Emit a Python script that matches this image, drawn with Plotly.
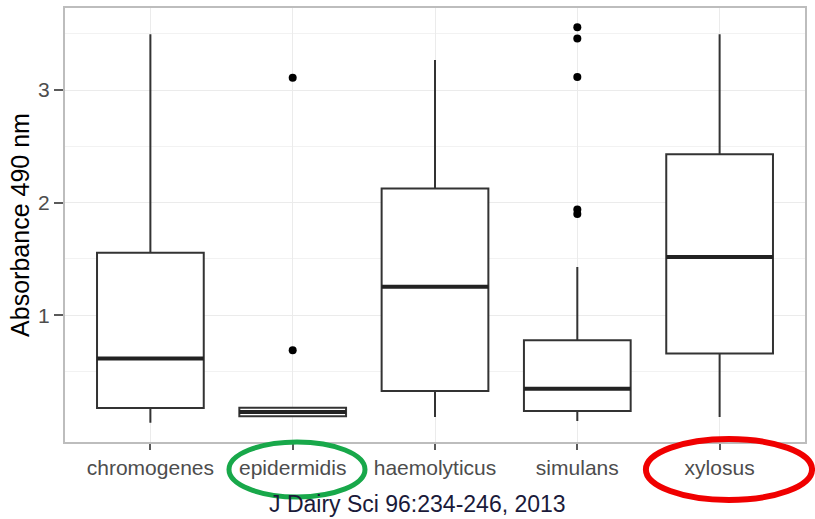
import plotly.graph_objects as go

categories = ["chromogenes", "epidermidis", "haemolyticus", "simulans", "xylosus"]
q1 = [0.176, 0.102, 0.327, 0.149, 0.659]
medians = [0.615, 0.140, 1.252, 0.348, 1.518]
q3 = [1.554, 0.178, 2.126, 0.778, 2.431]
lower_fence = [0.046, 0.100, 0.096, 0.060, 0.096]
upper_fence = [3.495, 0.180, 3.267, 1.429, 3.495]

outlier_cats = ["epidermidis", "epidermidis", "simulans", "simulans", "simulans", "simulans", "simulans"]
outlier_vals = [3.110, 0.689, 3.557, 3.459, 3.116, 1.940, 1.900]

y_ticks = [1, 2, 3]
y_minor = [0.5, 1.5, 2.5, 3.5]

line_col = "#333333"
fig = go.Figure()
fig.add_trace(go.Box(
    x=categories, q1=q1, median=medians, q3=q3,
    lowerfence=lower_fence, upperfence=upper_fence,
    boxpoints=False, width=0.75, whiskerwidth=0,
    fillcolor="white", line=dict(color=line_col, width=2),
    showlegend=False, hoverinfo="skip",
))
# thicker median line overlay
fig.add_trace(go.Box(
    x=categories, q1=medians, median=medians, q3=medians,
    lowerfence=medians, upperfence=medians,
    boxpoints=False, width=0.75, whiskerwidth=0,
    fillcolor="rgba(0,0,0,0)", line=dict(color="#222222", width=4),
    showlegend=False, hoverinfo="skip",
))
fig.add_trace(go.Scatter(
    x=outlier_cats, y=outlier_vals, mode="markers",
    marker=dict(color="black", size=8), showlegend=False,
))

grid_col = "#ebebeb"
fig.update_layout(
    width=815, height=519,
    margin=dict(l=65, r=10, t=8, b=77),
    plot_bgcolor="white", paper_bgcolor="white",
    boxmode="overlay",
    font=dict(family="Liberation Sans, Arial, sans-serif"),
    xaxis=dict(
        type="category", categoryorder="array", categoryarray=categories,
        range=[-0.6, 4.6], automargin=False,
        showgrid=True, gridcolor=grid_col, gridwidth=1.4,
        ticks="outside", ticklen=6, tickcolor="#5a5a5a", tickwidth=1.5,
        tickfont=dict(size=21, color="#4d4d4d"),
        showline=True, mirror=True, linecolor="#bdbdbd", linewidth=2,
        zeroline=False,
    ),
    yaxis=dict(
        range=[-0.126, 3.729], automargin=False,
        tickvals=y_ticks, ticktext=[str(v) for v in y_ticks],
        showgrid=True, gridcolor=grid_col, gridwidth=1.4,
        minor=dict(tickvals=y_minor, showgrid=True, gridcolor="#f2f2f2", gridwidth=1, ticks=""),
        ticks="outside", ticklen=9, tickcolor="#5a5a5a", tickwidth=1.5,
        tickfont=dict(size=21, color="#4d4d4d"),
        title=dict(text="Absorbance 490 nm", font=dict(size=25, color="black"), standoff=1),
        showline=True, mirror=True, linecolor="#bdbdbd", linewidth=2,
        zeroline=False,
    ),
    shapes=[
        dict(type="circle", xref="paper", yref="paper",
             x0=0.2216, x1=0.4054, y0=-0.1267, y1=0.0,
             line=dict(color="#18a84a", width=5)),
        dict(type="circle", xref="paper", yref="paper",
             x0=0.785, x1=1.0095, y0=-0.1336, y1=0.0069,
             line=dict(color="#f00000", width=6)),
    ],
    annotations=[
        dict(text="J Dairy Sci 96:234-246, 2013", xref="paper", yref="paper",
             x=0.477, y=-0.143, xanchor="center", yanchor="middle",
             showarrow=False, font=dict(size=23, color="#1a1a3a")),
    ],
)

fig.write_html("out.html", config={"displayModeBar": False},
               post_script="document.body.style.margin='0';")
